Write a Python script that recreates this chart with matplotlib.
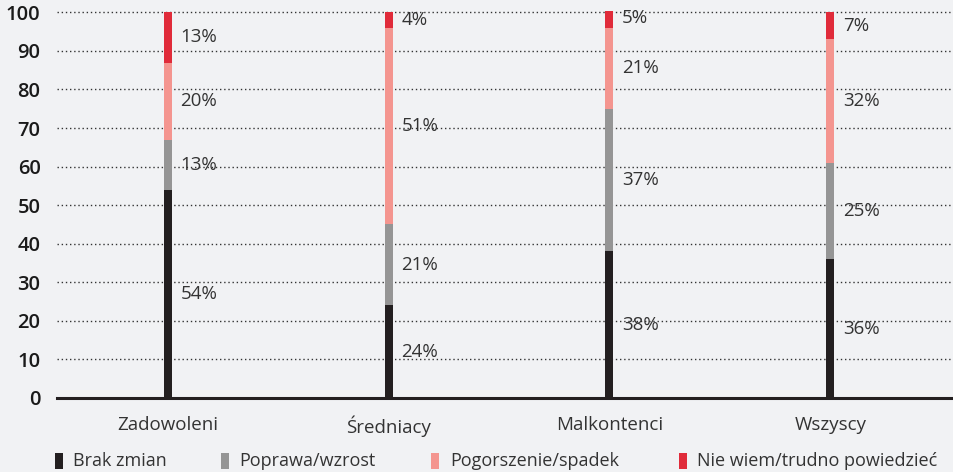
import matplotlib
matplotlib.use("Agg")
import matplotlib.pyplot as plt
import numpy as np
from matplotlib.patches import Rectangle

categories = ["Zadowoleni", "Średniacy", "Malkontenci", "Wszyscy"]
series_names = ["Brak zmian", "Poprawa/wzrost", "Pogorszenie/spadek", "Nie wiem/trudno powiedzieć"]
brak = [54, 24, 38, 36]
poprawa = [13, 21, 37, 25]
pogorszenie = [20, 51, 21, 32]
niewiem = [13, 4, 5, 7]
yticks = [0, 10, 20, 30, 40, 50, 60, 70, 80, 90, 100]

colors = ["#231f20", "#959595", "#f4958f", "#e02b3a"]
bg = "#f1f2f4"

plt.rcParams['font.family'] = ['Open Sans', 'DejaVu Sans']

W, H = 954, 472
fig = plt.figure(figsize=(W / 100, H / 100), dpi=100, facecolor=bg)
ax = fig.add_axes([0.06, 0.157, 0.94, 0.82], facecolor=bg)

x = np.arange(len(categories))
series = [brak, poprawa, pogorszenie, niewiem]
bottom = np.zeros(len(categories))
for vals, col in zip(series, colors):
    vals = np.array(vals, dtype=float)
    ax.bar(x, vals, bottom=bottom, width=0.036, color=col, zorder=3)
    for xi, b, v in zip(x, bottom, vals):
        ax.text(xi + 0.058, b + v / 2, f"{int(v)}%", ha="left", va="center",
                fontsize=13.5, color="#333333", zorder=4)
    bottom += vals

ax.set_xlim(-0.5, 3.56)
ax.set_ylim(0, 100.4)
ax.set_yticks(yticks)
ax.set_yticklabels([str(t) for t in yticks], fontsize=14.5, fontweight="semibold", color="#1a1a1a")
ax.set_xticks(x)
ax.set_xticklabels(categories, fontsize=13.5, color="#333333")
ax.tick_params(axis="both", length=0)
ax.tick_params(axis="y", pad=12)
ax.tick_params(axis="x", pad=13)
for s in ax.spines.values():
    s.set_visible(False)
ax.yaxis.grid(True, linestyle=(0, (1, 2)), color="#333333", linewidth=1, zorder=0)
ax.axhline(0, color="#231f20", linewidth=2.2, zorder=5, clip_on=False)

# legend drawn manually (pixel positions of markers and labels)
marker_x = [55, 221, 431, 679]
text_x = [73, 239, 450, 697]
ly = 461
for mx, tx, col, name in zip(marker_x, text_x, colors, series_names):
    fig.patches.append(Rectangle((mx / W, (H - ly - 8) / H), 8 / W, 16 / H,
                                 transform=fig.transFigure, facecolor=col, edgecolor="none"))
    fig.text(tx / W, (H - ly) / H, name, ha="left", va="center", fontsize=13,
             color="#333333")

fig.savefig("out.png", dpi=100, facecolor=bg)
